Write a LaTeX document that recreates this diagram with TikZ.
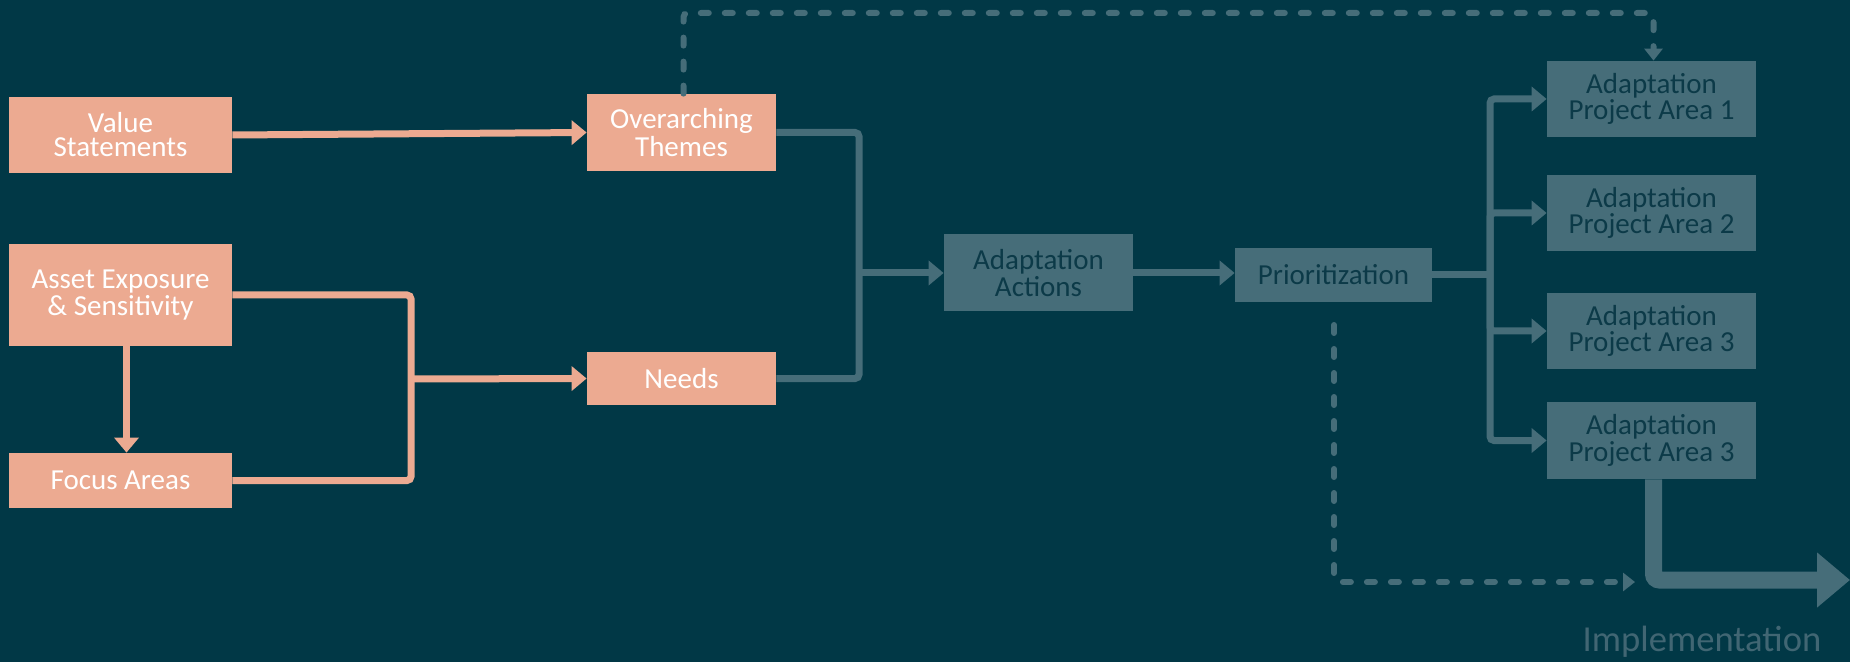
\documentclass[tikz,border=0pt]{standalone}
\usepackage{fontspec}
\setmainfont{Carlito}
\usetikzlibrary{arrows.meta}
\definecolor{bgteal}{HTML}{013846}
\definecolor{salmon}{HTML}{ECAA91}
\definecolor{slate}{HTML}{466D79}
\definecolor{slatetext}{HTML}{0C3A48}
\definecolor{impltext}{HTML}{416673}
\tikzset{
	warmbox/.style={fill=salmon,text=white,inner sep=0pt,align=center,minimum width=111.5pt,font=\fontsize{14.5}{12}\selectfont},
	coolbox/.style={fill=slate,text=slatetext,inner sep=0pt,align=center,font=\fontsize{14.5}{12}\selectfont},
	warmline/.style={draw=salmon,line width=3.5pt,rounded corners=2pt},
	warmarrow/.style={warmline,-{Triangle[length=7.5pt,width=12pt]}},
	coolline/.style={draw=slate,line width=3.5pt,rounded corners=2pt},
	coolarrow/.style={coolline,-{Triangle[length=7.5pt,width=12pt]}},
	dasharrow/.style={draw=slate,line width=3pt,line cap=round,dash pattern=on 4pt off 8pt,rounded corners=2pt,-{Triangle[length=6pt,width=9pt]}},
	implarrow/.style={draw=slate,line width=8.5pt,rounded corners=3pt,-{Triangle[length=16.5pt,width=26.5pt]}}
}
\begin{document}
\begin{tikzpicture}[x=0.5pt,y=-0.5pt]
	\fill[bgteal] (0,0) rectangle (1850,662);
	\useasboundingbox (0,0) rectangle (1850,662);
	\node[warmbox,minimum height=38pt] (value) at (120.5,135) {Value\\Statements};
	\node[warmbox,minimum height=51pt] (asset) at (120.5,295) {Asset Exposure\\\& Sensitivity};
	\node[warmbox,minimum height=27.5pt] (focus) at (120.5,480.5) {Focus Areas};
	\node[warmbox,minimum width=94.5pt,minimum height=38.5pt] (themes) at (681.5,132.5) {Overarching\\Themes};
	\node[warmbox,minimum width=94.5pt,minimum height=26.5pt] (needs) at (681.5,378.5) {Needs};
	\node[coolbox,minimum width=94.5pt,minimum height=38.5pt] (actions) at (1038.5,273) {Adaptation\\Actions};
	\node[coolbox,minimum width=98.5pt,minimum height=27pt] (prio) at (1333.5,275) {Prioritization};
	\node[coolbox,minimum width=104.5pt,minimum height=38pt] (area1) at (1651.5,99) {Adaptation\\Project Area 1};
	\node[coolbox,minimum width=104.5pt,minimum height=38pt] (area2) at (1651.5,213) {Adaptation\\Project Area 2};
	\node[coolbox,minimum width=104.5pt,minimum height=38pt] (area3) at (1651.5,331) {Adaptation\\Project Area 3};
	\node[coolbox,minimum width=104.5pt,minimum height=38.5pt] (area4) at (1651.5,440.5) {Adaptation\\Project Area 3};
	\node[text=impltext,font=\fontsize{18.3}{20}\selectfont] (impl) at (1702,642) {Implementation};
	\coordinate (warmjoin) at (411,379);
	\coordinate (cooljoin) at (859,273);
	\coordinate (fanout) at (1490,275);
	\coordinate (toprail) at (1200,13);
	\coordinate (dashstart) at (1334,325);
	\coordinate (dashend) at (1635,582);
	\coordinate (implend) at (1850,580);
	\draw[warmarrow] (value.east) -- (themes.west);
	\draw[warmarrow] ([xshift=3pt]asset.south) -- ([xshift=3pt]focus.north);
	\draw[warmline] (asset.east) -| (warmjoin) |- (focus.east);
	\draw[warmarrow] (warmjoin) -- (needs.west);
	\draw[coolline] (themes.east) -| (cooljoin) |- (needs.east);
	\draw[coolarrow] (cooljoin) -- (actions.west);
	\draw[coolarrow] (actions.east) -- (actions.east -| prio.west);
	\draw[coolline] (prio.east |- fanout) -- (fanout);
	\foreach \n in {area1,area2,area3,area4}
		\draw[coolarrow] (fanout) |- (\n.west);
	\draw[dasharrow] ([xshift=1pt]themes.north) |- (toprail) -| ([xshift=1pt]area1.north);
	\draw[dasharrow] (dashstart) |- (dashend);
	\draw[implarrow] ([xshift=1pt]area4.south) |- (implend);
\end{tikzpicture}
\end{document}
